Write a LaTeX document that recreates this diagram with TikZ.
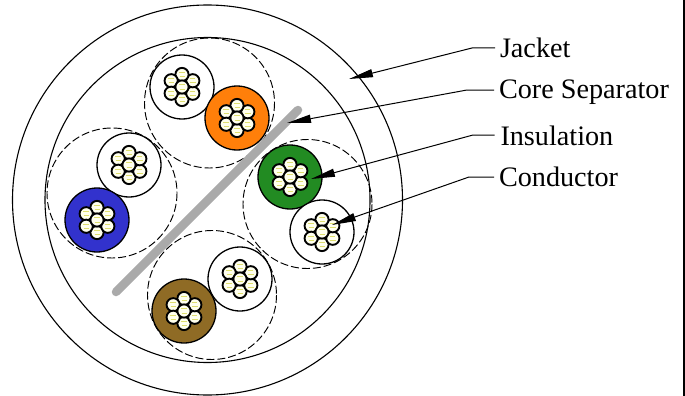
\documentclass[tikz,border=0pt]{standalone}
\usepackage{fontspec}
\setmainfont{Liberation Serif}
\usetikzlibrary{arrows.meta,calc}
\definecolor{wireorange}{RGB}{255,127,10}
\definecolor{wiregreen}{RGB}{34,139,34}
\definecolor{wireblue}{RGB}{50,50,205}
\definecolor{wirebrown}{RGB}{143,107,37}
\definecolor{sepgray}{RGB}{170,170,170}
\definecolor{strandyellow}{RGB}{222,222,110}
\definecolor{strandfill}{RGB}{255,255,238}
\tikzset{
  x=1pt,y=-1pt,
  shell/.style={draw=black,line width=1.1pt,fill=none},
  pairring/.style={draw=black,line width=0.95pt,dash pattern=on 8pt off 3pt},
  wirebody/.style={draw=black,line width=1.3pt},
  strandbody/.style={draw=black,line width=1.9pt,fill=strandfill},
  strandmark/.style={draw=strandyellow,line width=1pt},
  leader/.style={draw=black,line width=1pt,-{Triangle[length=24pt,width=8pt,fill=black]}},
  labeltext/.style={anchor=base west,inner sep=0pt,outer sep=0pt,font=\fontsize{28.2}{30}\selectfont},
  separator/.style={draw=sepgray,line width=8.5pt,line cap=round},
  pics/strands/.style={code={
    \foreach \a in {90,30,-30,-90,-150,150}{
      \draw[strandbody] (\a:12.5) circle[radius=6.6];
      \draw[strandmark] ($(\a:12.5)+(-3,-2.2)$) -- +(5.5,0);
      \draw[strandmark] ($(\a:12.5)+(-2.5,2.2)$) -- +(5.5,0);
    }
    \draw[strandbody] (0,0) circle[radius=6.6];
    \draw[strandmark] (-3,-2.2) -- +(5.5,0);
    \draw[strandmark] (-2.5,2.2) -- +(5.5,0);
  }}
}
\begin{document}
\begin{tikzpicture}
\useasboundingbox (0,0) rectangle (685,396);
% jacket and inner wall
\draw[shell] (207.5,200) circle[radius=195];
\draw[shell] (207.5,200) circle[radius=162.5];
% twisted-pair envelopes
\draw[pairring] (209.5,103) circle[radius=65];
\draw[pairring] (307.5,204) circle[radius=64.5];
\draw[pairring] (112,193) circle[radius=65];
\draw[pairring] (212,295) circle[radius=64.5];
% separator
\draw[separator] (116,292) -- (298,110);
% wires
\foreach \x/\y/\c in {182/87/white,237/118/wireorange,290/177/wiregreen,322/232/white,129/165/white,97/220/wireblue,240/279/white,184/311/wirebrown}{
  \draw[wirebody,fill=\c] (\x,\y) circle[radius=32];
  \pic at (\x,\y) {strands};
}
% border at right
\draw[black,line width=2pt] (684,0) -- (684,396);
% labels
\node[labeltext] (jacket) at (500,58) {Jacket};
\node[labeltext] (core) at (499,98) {Core Separator};
\node[labeltext] (insul) at (500.5,145) {Insulation};
\node[labeltext] (cond) at (499,186) {Conductor};
% leaders
\coordinate (jackettip) at (349,79);
\coordinate (coretip) at (287,123);
\coordinate (insultip) at (311,179);
\coordinate (condtip) at (332,225);
\coordinate (jacketknee) at (472,48);
\coordinate (coreknee) at (467,90);
\coordinate (insulknee) at (473,135);
\coordinate (condknee) at (469,177);
\draw[leader] (jacket.west |- jacketknee) ++(-5,0) -- (jacketknee) -- (jackettip);
\draw[leader] (core.west |- coreknee) ++(-5,0) -- (coreknee) -- (coretip);
\draw[leader] (insul.west |- insulknee) ++(-6,0) -- (insulknee) -- (insultip);
\draw[leader] (cond.west |- condknee) ++(-5,0) -- (condknee) -- (condtip);
\end{tikzpicture}
\end{document}
